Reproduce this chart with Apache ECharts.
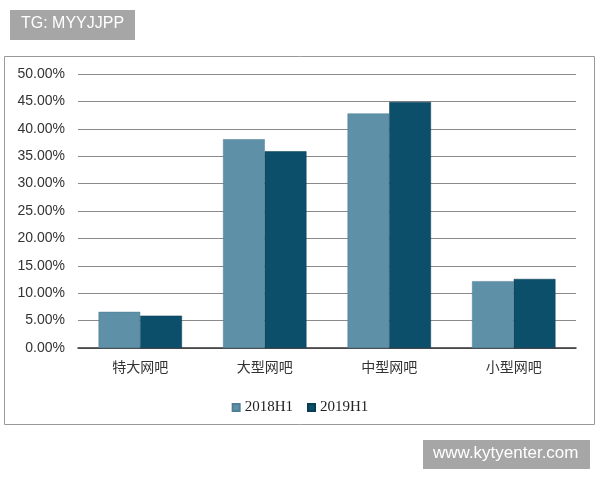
<!DOCTYPE html>
<html>
<head>
<meta charset="utf-8">
<script src="https://cdn.jsdelivr.net/npm/echarts@6/dist/echarts.min.js"></script>
<style>
html,body{margin:0;padding:0;background:#fff;}
#main{width:600px;height:480px;}
</style>
</head>
<body>
<div id="main"></div>
<script>
const categories = ['特大网吧', '大型网吧', '中型网吧', '小型网吧'];
const series2018 = [6.6, 38.1, 42.8, 12.2];
const series2019 = [5.9, 35.9, 44.9, 12.6];
const seriesNames = ['2018H1', '2019H1'];

const chart = echarts.init(document.getElementById('main'));
chart.setOption({
  backgroundColor: '#fff',
  animation: false,
  grid: { left: 78, right: 24, top: 74, bottom: 132 },
  legend: {
    data: seriesNames,
    left: 'center',
    top: 395,
    itemWidth: 7,
    itemHeight: 7,
    itemGap: 14,
    icon: 'rect',
    textStyle: { fontFamily: 'Liberation Serif, serif', fontSize: 15, color: '#222' }
  },
  xAxis: {
    type: 'category',
    data: categories,
    axisLine: { lineStyle: { color: '#333', width: 1.5 } },
    axisTick: { show: false },
    axisLabel: { fontFamily: 'Noto Sans CJK SC, sans-serif', fontSize: 14, color: '#333', margin: 12 }
  },
  yAxis: {
    type: 'value',
    min: 0, max: 50, interval: 5,
    axisLine: { show: false },
    axisTick: { show: false },
    axisLabel: {
      margin: 13,
      fontFamily: 'Liberation Sans, Arial, sans-serif', fontSize: 14, color: '#333',
      formatter: v => v.toFixed(2) + '%'
    },
    splitLine: { lineStyle: { color: '#8a8a8a', width: 1 } }
  },
  series: [
    {
      name: seriesNames[0], type: 'bar', data: series2018,
      barGap: '0%', barCategoryGap: '33%',
      itemStyle: { color: '#5e90a8', borderColor: '#4f7f97', borderWidth: 0.5 }
    },
    {
      name: seriesNames[1], type: 'bar', data: series2019,
      itemStyle: { color: '#0c4f6b', borderColor: '#083d54', borderWidth: 0.5 }
    }
  ],
  graphic: [
    { type: 'rect', shape: { x: 4.5, y: 56.5, width: 590, height: 368 }, style: { fill: 'none', stroke: '#999', lineWidth: 1 }, z: -1 },
    { type: 'rect', shape: { x: 10, y: 10, width: 125, height: 30 }, style: { fill: '#a6a6a6' } },
    { type: 'text', left: 21, top: 16, style: { text: 'TG: MYYJJPP', fill: '#fff', font: '16px Liberation Sans, Arial, sans-serif' } },
    { type: 'rect', shape: { x: 423, y: 440, width: 167, height: 29 }, style: { fill: '#a6a6a6' } },
    { type: 'text', left: 433, top: 445, style: { text: 'www.kytyenter.com', fill: '#fff', font: '17px Liberation Sans, Arial, sans-serif' } }
  ]
});
</script>
</body>
</html>
